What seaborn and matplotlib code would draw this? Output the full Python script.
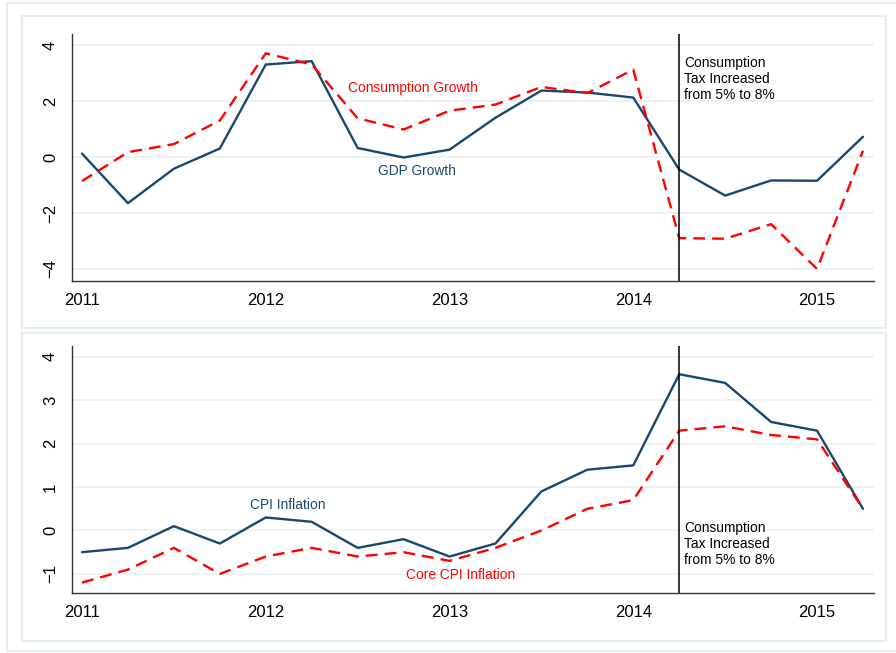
import pandas as pd
import numpy as np
import matplotlib
matplotlib.use("Agg")
import matplotlib.pyplot as plt
import seaborn as sns
from matplotlib.patches import Rectangle

# --- data (quarterly, 2011Q1 - 2015Q2) ---
quarters = [2011.0, 2011.25, 2011.5, 2011.75, 2012.0, 2012.25, 2012.5, 2012.75,
            2013.0, 2013.25, 2013.5, 2013.75, 2014.0, 2014.25, 2014.5, 2014.75,
            2015.0, 2015.25]
gdp_growth = [0.12, -1.65, -0.42, 0.3, 3.3, 3.42, 0.32, -0.02, 0.26, 1.4, 2.37, 2.3,
              2.12, -0.45, -1.38, -0.84, -0.85, 0.72]
cons_growth = [-0.86, 0.17, 0.46, 1.3, 3.7, 3.3, 1.38, 0.98, 1.65, 1.87, 2.5, 2.28,
               3.12, -2.9, -2.92, -2.4, -4.0, 0.22]
cpi_infl = [-0.5, -0.4, 0.1, -0.3, 0.3, 0.2, -0.4, -0.2, -0.6, -0.3, 0.9, 1.4,
            1.5, 3.6, 3.4, 2.5, 2.3, 0.5]
core_cpi_infl = [-1.2, -0.9, -0.4, -1.0, -0.6, -0.4, -0.6, -0.5, -0.7, -0.4, 0.0, 0.5,
                 0.7, 2.3, 2.4, 2.2, 2.1, 0.5]
year_ticks = [2011, 2012, 2013, 2014, 2015]
tax_date = 2014.25
tax_note = "Consumption\nTax Increased\nfrom 5% to 8%"

navy = "#1a476f"
red = "#ff0000"
grid_col = "#eaf2f3"
frame_col = "#e4ecee"

sns.set_style("white")
plt.rcParams['font.family'] = ['Liberation Sans', 'DejaVu Sans']

top = pd.DataFrame({"quarter": quarters, "GDP": gdp_growth, "Cons": cons_growth})
bot = pd.DataFrame({"quarter": quarters, "CPI": cpi_infl, "Core": core_cpi_infl})

fig = plt.figure(figsize=(8.96, 6.53), dpi=100)
fig.patch.set_facecolor("white")

W, H = 896, 653
def fx(px): return px / W
def fy(py): return 1 - py / H

# outer frame and the two graph-region boxes
fig.add_artist(Rectangle((fx(7), fy(651)), fx(900), fy(3) - fy(651), transform=fig.transFigure,
                         fill=False, edgecolor=frame_col, lw=1.5))
for y0, y1 in [(16, 328), (333, 641)]:
    fig.add_artist(Rectangle((fx(22), fy(y1)), fx(886 - 22), fy(y0) - fy(y1),
                             transform=fig.transFigure, fill=False,
                             edgecolor=frame_col, lw=1.5))

ax1 = fig.add_axes([fx(72), fy(281), fx(874 - 72), fy(34) - fy(281)])
ax2 = fig.add_axes([fx(72), fy(593), fx(874 - 72), fy(346) - fy(593)])

sns.lineplot(data=top, x="quarter", y="GDP", color=navy, lw=1.7, ax=ax1)
sns.lineplot(data=top, x="quarter", y="Cons", color=red, lw=1.7, ax=ax1,
             dashes=False).lines[-1].set_dashes((5, 3))
sns.lineplot(data=bot, x="quarter", y="CPI", color=navy, lw=1.7, ax=ax2)
sns.lineplot(data=bot, x="quarter", y="Core", color=red, lw=1.7, ax=ax2,
             dashes=False).lines[-1].set_dashes((5, 3))

ax1.set_ylim(-4.43, 4.39)
ax1.set_yticks([-4, -2, 0, 2, 4])
ax2.set_ylim(-1.44, 4.25)
ax2.set_yticks([-1, 0, 1, 2, 3, 4])

for ax in (ax1, ax2):
    ax.set_xlim(2010.9456, 2015.31)
    ax.set_xticks(year_ticks)
    ax.set_xticklabels([str(y) for y in year_ticks])
    ax.set_xlabel("")
    ax.set_ylabel("")
    ax.grid(axis="y", color=grid_col, lw=1.3)
    ax.set_axisbelow(True)
    for s in ["top", "right"]:
        ax.spines[s].set_visible(False)
    for s in ["left", "bottom"]:
        ax.spines[s].set_color("#333333")
        ax.spines[s].set_linewidth(1.0)
    ax.tick_params(axis="both", direction="out", length=5, width=1.0,
                   color="#333333", labelsize=12, labelcolor="black")
    ax.tick_params(axis="y", pad=5)
    for lab in ax.get_yticklabels():
        lab.set_rotation(90)
        lab.set_va("center")
    ax.axvline(tax_date, color="black", lw=1.1)

ax1.text(2012.8, 2.46, "Consumption Growth", color=red, fontsize=9.9, ha="center", va="center")
ax1.text(2012.82, -0.5, "GDP Growth", color=navy, fontsize=9.9, ha="center", va="center")
ax1.text(tax_date + 0.025, 3.62, tax_note, color="black", fontsize=9.9, ha="left", va="top",
         linespacing=1.22)

ax2.text(2012.12, 0.58, "CPI Inflation", color=navy, fontsize=9.9, ha="center", va="center")
ax2.text(2013.06, -1.03, "Core CPI Inflation", color=red, fontsize=9.9, ha="center", va="center")
ax2.text(tax_date + 0.025, 0.23, tax_note, color="black", fontsize=9.9, ha="left", va="top",
         linespacing=1.22)

fig.savefig("out.png", dpi=100)
